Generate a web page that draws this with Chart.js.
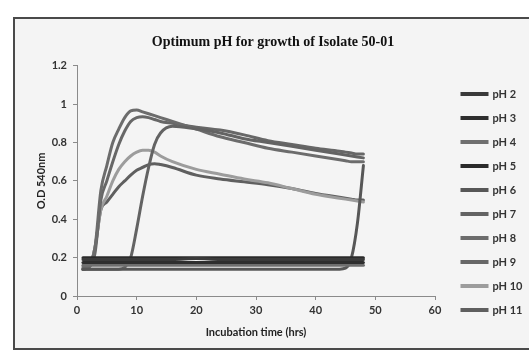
<!DOCTYPE html>
<html>
<head>
<meta charset="utf-8">
<script src="https://cdn.jsdelivr.net/npm/chart.js@4"></script>
<style>
  html, body { margin: 0; padding: 0; background: #fff; }
  #frame { position: absolute; left: 13px; top: 17px; width: 600px; height: 329px;
           border: 2px solid #4a4a4a; background: #f4f4f4; }
  #wrap { position: absolute; left: 0; top: 0; width: 529px; height: 353px; }
</style>
</head>
<body>
<div id="frame"></div>
<div id="wrap"><canvas id="myChart" width="529" height="353"></canvas></div>
<script>
// Datos (O.D 540nm vs horas)
const hours = [1, 2, 3, 4, 5, 6, 7, 8, 9, 10, 11, 12, 13, 14, 16, 20, 24, 28, 32, 36, 40, 44, 45, 46, 47, 48];
const ph2  = [0.19, 0.19, 0.19, 0.19, 0.19, 0.19, 0.19, 0.19, 0.19, 0.19, 0.19, 0.19, 0.19, 0.19, 0.19, 0.195, 0.19, 0.19, 0.19, 0.19, 0.19, 0.19, 0.19, 0.19, 0.19, 0.19];
const ph3  = [0.175, 0.175, 0.175, 0.175, 0.175, 0.175, 0.175, 0.175, 0.175, 0.175, 0.175, 0.175, 0.175, 0.175, 0.175, 0.175, 0.175, 0.175, 0.175, 0.175, 0.175, 0.175, 0.175, 0.175, 0.175, 0.175];
const ph4  = [0.16, 0.16, 0.16, 0.16, 0.16, 0.16, 0.16, 0.16, 0.16, 0.16, 0.16, 0.16, 0.16, 0.16, 0.16, 0.16, 0.16, 0.16, 0.16, 0.16, 0.16, 0.16, 0.16, 0.16, 0.16, 0.16];
const ph5  = [0.2, 0.2, 0.2, 0.2, 0.2, 0.2, 0.2, 0.2, 0.2, 0.2, 0.2, 0.2, 0.2, 0.2, 0.2, 0.2, 0.2, 0.2, 0.2, 0.2, 0.2, 0.2, 0.2, 0.2, 0.2, 0.2];
const ph6  = [0.14, 0.14, 0.14, 0.14, 0.14, 0.14, 0.14, 0.14, 0.14, 0.14, 0.14, 0.14, 0.14, 0.14, 0.14, 0.14, 0.14, 0.14, 0.14, 0.14, 0.14, 0.14, 0.145, 0.2, 0.38, 0.68];
const ph7  = [0.14, 0.14, 0.14, 0.14, 0.14, 0.14, 0.14, 0.15, 0.2, 0.35, 0.52, 0.67, 0.79, 0.85, 0.885, 0.87, 0.85, 0.82, 0.8, 0.78, 0.76, 0.74, 0.735, 0.73, 0.725, 0.72];
const ph8  = [0.15, 0.16, 0.25, 0.55, 0.68, 0.8, 0.87, 0.93, 0.965, 0.97, 0.96, 0.95, 0.94, 0.93, 0.91, 0.87, 0.83, 0.8, 0.77, 0.75, 0.73, 0.71, 0.705, 0.7, 0.7, 0.7];
const ph9  = [0.14, 0.15, 0.22, 0.5, 0.6, 0.7, 0.79, 0.86, 0.91, 0.93, 0.935, 0.93, 0.92, 0.91, 0.9, 0.88, 0.865, 0.84, 0.81, 0.79, 0.77, 0.755, 0.75, 0.745, 0.74, 0.74];
const ph10 = [0.14, 0.15, 0.25, 0.45, 0.52, 0.6, 0.66, 0.7, 0.73, 0.75, 0.76, 0.76, 0.75, 0.73, 0.7, 0.66, 0.635, 0.61, 0.59, 0.56, 0.53, 0.51, 0.505, 0.5, 0.495, 0.49];
const ph11 = [0.14, 0.15, 0.25, 0.45, 0.49, 0.53, 0.57, 0.6, 0.63, 0.655, 0.67, 0.685, 0.69, 0.685, 0.67, 0.63, 0.61, 0.595, 0.58, 0.56, 0.535, 0.515, 0.51, 0.505, 0.5, 0.5];

const seriesNames = ['pH 2', 'pH 3', 'pH 4', 'pH 5', 'pH 6', 'pH 7', 'pH 8', 'pH 9', 'pH 10', 'pH 11'];
const seriesValues = [ph2, ph3, ph4, ph5, ph6, ph7, ph8, ph9, ph10, ph11];
const seriesColors = ['#3a3a3a', '#2e2e2e', '#6f6f6f', '#2a2a2a', '#575757', '#636363', '#6c6c6c', '#676767', '#9c9c9c', '#5f5f5f'];
const xTicks = [0, 10, 20, 30, 40, 50, 60];
const yTicks = [0, 0.2, 0.4, 0.6, 0.8, 1, 1.2];

// mover la leyenda para que quede como en la figura
const legendNudge = {
    id: 'legendNudge',
    afterInit(chart) {
        const legend = chart.legend;
        const fit = legend.fit;
        legend.fit = function () { fit.call(this); this.width = 94; };
    },
    afterLayout(chart) {
        chart.legend.left += 14;
        chart.legend.right += 14;
    }
};

document.addEventListener('DOMContentLoaded', () => {
    const ctx = document.getElementById('myChart').getContext('2d');

    const datasets = seriesNames.map((name, i) => ({
        label: name,
        data: hours.map((h, j) => ({ x: h, y: seriesValues[i][j] })),
        borderColor: seriesColors[i],
        backgroundColor: seriesColors[i],
        borderWidth: 3,
        borderCapStyle: 'round',
        pointRadius: 0,
        cubicInterpolationMode: 'monotone',
        showLine: true
    }));

    new Chart(ctx, {
        type: 'scatter',
        data: { datasets: datasets },
        plugins: [legendNudge],
        options: {
            responsive: false,
            animation: false,
            layout: { padding: { left: 17, right: 0, top: 10, bottom: 0 } },
            plugins: {
                title: {
                    display: true,
                    text: 'Optimum pH for growth of Isolate 50-01',
                    color: '#111',
                    font: { family: 'Liberation Serif', size: 14, weight: 'bold', lineHeight: 1.2 },
                    padding: { top: 24, bottom: 15 }
                },
                legend: {
                    position: 'right',
                    title: { display: true, text: '', font: { size: 10, lineHeight: 1 }, padding: { top: 31, bottom: 0 } },
                    labels: {
                        boxWidth: 25,
                        boxHeight: 1,
                        padding: 13,
                        color: '#333',
                        font: { family: 'Lato', size: 11, weight: 'bold' }
                    }
                },
                tooltip: { enabled: false }
            },
            scales: {
                x: {
                    type: 'linear',
                    min: 0,
                    max: 60,
                    afterBuildTicks: (scale) => { scale.ticks = xTicks.map(v => ({ value: v })); },
                    afterFit: (scale) => { scale.height = 57; },
                    grid: { drawOnChartArea: false, drawTicks: true, tickLength: 4, color: '#8a8a8a' },
                    border: { color: '#8a8a8a', width: 1 },
                    ticks: { padding: 4, color: '#333', font: { family: 'Lato', size: 11, weight: 'bold' } },
                    title: {
                        display: true,
                        text: 'Incubation time (hrs)',
                        color: '#222',
                        font: { family: 'Lato', size: 11, weight: 'bold', lineHeight: 1.2 },
                        padding: { top: 0, bottom: 14 }
                    }
                },
                y: {
                    min: 0,
                    max: 1.2,
                    afterBuildTicks: (scale) => { scale.ticks = yTicks.map(v => ({ value: v })); },
                    afterFit: (scale) => { scale.width = 60; },
                    grid: { drawOnChartArea: false, drawTicks: true, tickLength: 4, color: '#8a8a8a' },
                    border: { color: '#8a8a8a', width: 1 },
                    ticks: {
                        padding: 6,
                        color: '#333',
                        font: { family: 'Lato', size: 11, weight: 'bold' },
                        callback: (v) => String(v)
                    },
                    title: {
                        display: true,
                        text: 'O.D 540nm',
                        color: '#222',
                        font: { family: 'Lato', size: 11, weight: 'bold', lineHeight: 1.2 },
                        padding: { top: 18, bottom: 0 }
                    }
                }
            }
        }
    });
});
</script>
</body>
</html>
